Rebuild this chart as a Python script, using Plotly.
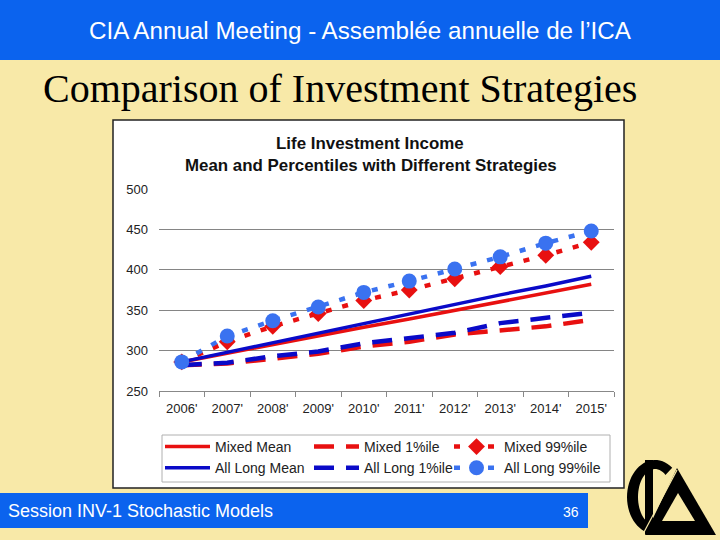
import numpy as np
import plotly.graph_objects as go

# ---- data ----
years = ["2006'", "2007'", "2008'", "2009'", "2010'", "2011'", "2012'", "2013'", "2014'", "2015'"]
mixed_mean = [286, 297, 307, 318, 329, 339, 350, 361, 371, 382]
long_mean = [286, 298, 310, 322, 334, 345, 357, 369, 380, 392]
mixed_p1 = [282, 284, 290, 296, 305, 311, 320, 325, 330, 338]
long_p1 = [282, 285, 293, 299, 309, 316, 322, 334, 340, 347]
mixed_p99 = [286, 311, 330, 346, 362, 375, 389, 404, 418, 434]
long_p99 = [286, 318, 337, 354, 372, 386, 401, 416, 433, 448]
y_ticks = [250, 300, 350, 400, 450, 500]

W, H = 720, 540
RED = "#e81010"
NAVY = "#0a0ac8"
LBLUE = "#3a72f0"
BG = "#f8e9a8"
HEADER = "#0b63ee"


def px(x):
    return x / W


def py(y):
    return 1 - y / H


fig = go.Figure()
fig.add_trace(go.Scatter(x=years, y=mixed_mean, name="Mixed Mean", mode="lines",
                         line=dict(color=RED, width=3.5), legend="legend"))
fig.add_trace(go.Scatter(x=years, y=mixed_p1, name="Mixed 1%ile", mode="lines",
                         line=dict(color=RED, width=4.5, dash="20px,12px"), legend="legend2"))
fig.add_trace(go.Scatter(x=years, y=mixed_p99, name="Mixed 99%ile", mode="lines+markers",
                         line=dict(color=RED, width=4.5, dash="6px,11px"),
                         marker=dict(symbol="diamond", size=13, color=RED), legend="legend3"))
fig.add_trace(go.Scatter(x=years, y=long_mean, name="All Long Mean", mode="lines",
                         line=dict(color=NAVY, width=3.5), legend="legend"))
fig.add_trace(go.Scatter(x=years, y=long_p1, name="All Long 1%ile", mode="lines",
                         line=dict(color=NAVY, width=4.5, dash="20px,12px"), legend="legend2"))
fig.add_trace(go.Scatter(x=years, y=long_p99, name="All Long 99%ile", mode="lines+markers",
                         line=dict(color=LBLUE, width=4.5, dash="6px,11px"),
                         marker=dict(symbol="circle", size=15, color=LBLUE), legend="legend3"))

shapes = []
# header bar
shapes.append(dict(type="rect", xref="paper", yref="paper", x0=0, x1=1, y0=py(60), y1=1,
                   fillcolor=HEADER, line=dict(width=0), layer="below"))
# footer bar
shapes.append(dict(type="rect", xref="paper", yref="paper", x0=0, x1=px(588), y0=py(528), y1=py(493),
                   fillcolor=HEADER, line=dict(width=0), layer="below"))
# chart white box
shapes.append(dict(type="rect", xref="paper", yref="paper", x0=px(113), x1=px(624), y0=py(488), y1=py(120),
                   fillcolor="white", line=dict(color="#222222", width=1.5), layer="below"))
# legend box
shapes.append(dict(type="rect", xref="paper", yref="paper", x0=px(162), x1=px(610), y0=py(482), y1=py(435),
                   fillcolor="white", line=dict(color="#b0b0b0", width=1), layer="below"))


def path_from(points):
    s = "M " + " L ".join(f"{px(x):.5f},{py(y):.5f}" for x, y in points) + " Z"
    return s


# logo: ring arc
cx, cy = 655, 497
ang_out = np.linspace(np.deg2rad(52), np.deg2rad(270), 40)
outer = [(cx + 28 * np.cos(a), cy - 37 * np.sin(a)) for a in ang_out]
inner = [(cx + 17 * np.cos(a), cy - 28 * np.sin(a)) for a in ang_out[::-1]]
shapes.append(dict(type="path", xref="paper", yref="paper", path=path_from(outer + inner),
                   fillcolor="black", line=dict(width=0)))
# bar
shapes.append(dict(type="path", xref="paper", yref="paper",
                   path=path_from([(645, 460), (653, 460), (653, 534), (645, 534)]),
                   fillcolor="black", line=dict(width=0)))
# triangle
shapes.append(dict(type="path", xref="paper", yref="paper",
                   path=path_from([(677, 468), (716, 535), (645, 535)]),
                   fillcolor="black", line=dict(width=0)))
shapes.append(dict(type="path", xref="paper", yref="paper",
                   path=path_from([(678, 493), (695, 521), (662, 521)]),
                   fillcolor=BG, line=dict(width=0)))
shapes.append(dict(type="line", xref="paper", yref="paper", x0=px(643), y0=py(534), x1=px(677), y1=py(470),
                   line=dict(color=BG, width=1.2)))

annotations = [
    dict(text="CIA Annual Meeting - Assemblée annuelle de l’ICA", x=px(360), y=py(31),
         xref="paper", yref="paper", showarrow=False, xanchor="center", yanchor="middle",
         font=dict(family="Liberation Sans, Arial", size=24.2, color="white")),
    dict(text="Comparison of Investment Strategies", x=px(41), y=py(88),
         xref="paper", yref="paper", showarrow=False, xanchor="left", yanchor="middle",
         font=dict(family="Liberation Serif, Times New Roman", size=40, color="black")),
    dict(text="<b>Life Investment Income</b>", x=px(370), y=py(143),
         xref="paper", yref="paper", showarrow=False, xanchor="center", yanchor="middle",
         font=dict(family="Liberation Sans, Arial", size=16.9, color="#111111")),
    dict(text="<b>Mean and Percentiles with Different Strategies</b>", x=px(371), y=py(165),
         xref="paper", yref="paper", showarrow=False, xanchor="center", yanchor="middle",
         font=dict(family="Liberation Sans, Arial", size=16.9, color="#111111")),
    dict(text="Session INV-1 Stochastic Models", x=px(6), y=py(511),
         xref="paper", yref="paper", showarrow=False, xanchor="left", yanchor="middle",
         font=dict(family="Liberation Sans, Arial", size=18, color="white")),
    dict(text="36", x=px(581), y=py(512),
         xref="paper", yref="paper", showarrow=False, xanchor="right", yanchor="middle",
         font=dict(family="Liberation Sans, Arial", size=14, color="white")),
]

leg_common = dict(orientation="v", yanchor="top", xanchor="left",
                  bgcolor="rgba(0,0,0,0)", borderwidth=0, itemwidth=45,
                  font=dict(size=14, color="#222222", family="Liberation Sans, Arial"),
                  tracegroupgap=0, traceorder="normal", itemclick=False, itemdoubleclick=False)

fig.update_layout(
    width=W, height=H,
    margin=dict(l=0, r=0, t=0, b=0, autoexpand=False),
    paper_bgcolor=BG,
    plot_bgcolor="#c0c0c0",
    shapes=shapes,
    annotations=annotations,
    font=dict(family="Liberation Sans, Arial", color="#222222"),
    xaxis=dict(domain=[px(159), px(614)], type="category", range=[-0.5, 9.5], showgrid=False,
               tickson="boundaries", ticks="outside", ticklen=5, tickcolor="#888888",
               showline=True, linecolor="#888888", linewidth=1, ticklabelstandoff=5,
               tickfont=dict(size=13, color="#222222"), fixedrange=True),
    yaxis=dict(domain=[py(391), py(189)], range=[250, 500], tickvals=y_ticks,
               showgrid=True, gridcolor="#858585", gridwidth=1, zeroline=False,
               ticks="", ticklabelstandoff=10,
               tickfont=dict(size=13, color="#222222"), fixedrange=True),
    legend=dict(x=px(160), y=py(431), **leg_common),
    legend2=dict(x=px(309), y=py(431), **leg_common),
    legend3=dict(x=px(449), y=py(431), **leg_common),
    showlegend=True,
)

fig.write_html("out.html", config={"displayModeBar": False},
               post_script="document.body.style.margin='0';document.body.style.overflow='hidden';")
